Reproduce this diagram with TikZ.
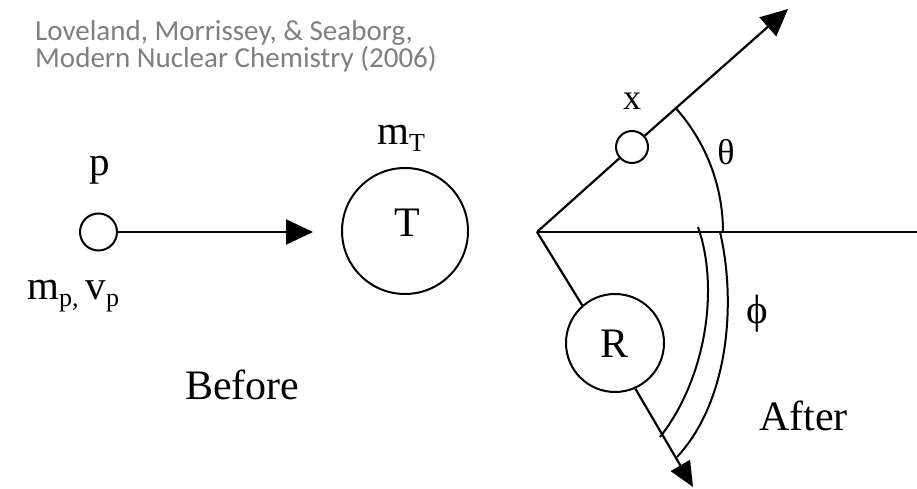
\documentclass[tikz,border=0pt]{standalone}
\usepackage{fontspec}
\setmainfont{Liberation Serif}
\newfontfamily\citefont{Carlito}
\usetikzlibrary{arrows.meta}
\definecolor{citegray}{RGB}{127,127,127}
\newcommand{\lowsub}[1]{\raisebox{-7pt}{\fontsize{26}{26}\selectfont #1}}
\begin{document}
\begin{tikzpicture}[x=1pt,y=1pt,
  line/.style={line width=2.2pt},
  ball/.style={circle, draw, line width=2pt, inner sep=0pt},
  arr/.style={line, -{Triangle[length=27pt,width=25pt]}},
  arrsmall/.style={line, -{Triangle[length=25pt,width=22pt]}},
  lbl/.style={inner sep=0pt, font=\fontsize{41}{41}\selectfont},
  big/.style={inner sep=0pt, font=\fontsize{42}{42}\selectfont},
  cite/.style={inner sep=0pt, align=left, text=citegray, font=\citefont\fontsize{29}{26}\selectfont}]
\useasboundingbox (0,0) rectangle (917,489);

% citation
\node[cite, anchor=base west] (cite) at (35,421) {Loveland, Morrissey, \& Seaborg,\\Modern Nuclear Chemistry (2006)};

% before
\node[ball, minimum size=37pt] (p) at (98.5,257) {};
\coordinate (pend) at (313,257);
\draw[arr] (p) -- (pend);
\node[lbl, anchor=base] (plbl) at (100,313) {p};
\node[lbl, anchor=base west] (mpvp) at (27,189) {m\lowsub{p,}\hspace{7pt}v\lowsub{p}};
\node[ball, minimum size=126pt] (T) at (405,258) {};
\node[big, anchor=base] (Tl) at (407,252) {T};
\node[lbl, anchor=base west] (mT) at (377,344) {m\lowsub{T}};
\node[big, anchor=base west] (before) at (185,89) {Before};

% after
\coordinate (O) at (537,257);
\coordinate (H) at (917,257);
\draw[line] (O) -- (H);
\node[ball, minimum size=32pt] (x) at (632,342) {};
\coordinate (tx) at (788,480);
\draw[line] (O) -- (x);
\draw[arr] (x) -- (tx);
\node[lbl, font=\fontsize{36}{36}\selectfont, anchor=base] (xl) at (632,379) {x};

\node[ball, minimum size=98pt] (R) at (615,146) {};
\node[big, anchor=base] (Rl) at (614,131) {R};
\coordinate (tR) at (693,2);
\draw[line] (O) -- (R.131);
\draw[arrsmall] (R.-66) -- (tR);

% theta arc
\draw[line, line width=2pt] ([shift={(0:186)}]O) arc[start angle=0, end angle=41.6, radius=186];
\node[lbl, font=\fontsize{36}{36}\selectfont, anchor=base] (th) at (726,324) {θ};

% phi arcs
\coordinate (ia) at (698,262);
\coordinate (ib) at (660,52);
\coordinate (oa) at (720,257);
\coordinate (ob) at (677,32);
\draw[line, line width=2pt] (ia) .. controls (720,199) and (705,109) .. (ib);
\draw[line, line width=2pt] (oa) .. controls (736,189) and (730,89) .. (ob);
\node[lbl, anchor=center] (ph) at (757.5,175) {ϕ};

\node[big, anchor=base west] (after) at (759,58) {After};
\end{tikzpicture}
\end{document}
